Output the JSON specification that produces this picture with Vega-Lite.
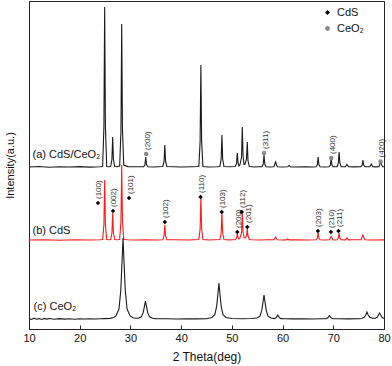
{
  "$schema": "https://vega.github.io/schema/vega-lite/v6.json",
  "width": 355,
  "height": 328,
  "autosize": {"type": "none"},
  "padding": {"left": 29, "top": 1, "right": 8, "bottom": 37},
  "background": "white",
  "datasets": {
    "tr": [
      {"s":"a","x":10,"y":162},{"s":"a","x":12,"y":162.5},{"s":"a","x":14,"y":161.8},{"s":"a","x":16,"y":162.3},{"s":"a","x":18,"y":162},{"s":"a","x":20,"y":162.4},{"s":"a","x":22,"y":161.9},{"s":"a","x":24,"y":162.2},
      {"s":"a","x":24.52,"y":162.5},{"s":"a","x":24.77,"y":202},{"s":"a","x":24.92,"y":322},{"s":"a","x":25.07,"y":202},{"s":"a","x":25.32,"y":162.5},
      {"s":"a","x":25.7,"y":162.3},
      {"s":"a","x":26.1,"y":162.5},{"s":"a","x":26.35,"y":169.5},{"s":"a","x":26.5,"y":192},{"s":"a","x":26.65,"y":169.5},{"s":"a","x":26.9,"y":162.5},
      {"s":"a","x":27.3,"y":162.3},
      {"s":"a","x":27.88,"y":163},{"s":"a","x":28.13,"y":198},{"s":"a","x":28.28,"y":305},{"s":"a","x":28.43,"y":199},{"s":"a","x":28.68,"y":164},
      {"s":"a","x":29.5,"y":162.4},{"s":"a","x":31,"y":162.2},
      {"s":"a","x":32.62,"y":162.3},{"s":"a","x":32.87,"y":164.5},{"s":"a","x":33.02,"y":172},{"s":"a","x":33.17,"y":164.5},{"s":"a","x":33.42,"y":162.3},
      {"s":"a","x":34.5,"y":162},
      {"s":"a","x":36.38,"y":162.5},{"s":"a","x":36.63,"y":167.5},{"s":"a","x":36.78,"y":184},{"s":"a","x":36.93,"y":167.5},{"s":"a","x":37.18,"y":162.5},
      {"s":"a","x":38.5,"y":162.2},{"s":"a","x":40,"y":162},{"s":"a","x":42,"y":162.3},
      {"s":"a","x":43.49,"y":162.5},{"s":"a","x":43.74,"y":187.5},{"s":"a","x":43.89,"y":264},{"s":"a","x":44.04,"y":187.5},{"s":"a","x":44.29,"y":162.5},
      {"s":"a","x":45.5,"y":162},{"s":"a","x":47,"y":162.3},
      {"s":"a","x":47.64,"y":162.5},{"s":"a","x":47.89,"y":170},{"s":"a","x":48.04,"y":194},{"s":"a","x":48.19,"y":170},{"s":"a","x":48.44,"y":162.5},
      {"s":"a","x":49.5,"y":162.2},
      {"s":"a","x":50.67,"y":162.5},{"s":"a","x":50.92,"y":165.5},{"s":"a","x":51.07,"y":176},{"s":"a","x":51.22,"y":166},{"s":"a","x":51.4,"y":163},
      {"s":"a","x":51.56,"y":163.5},{"s":"a","x":51.91,"y":172},{"s":"a","x":52.06,"y":202},{"s":"a","x":52.21,"y":173},{"s":"a","x":52.4,"y":164.5},
      {"s":"a","x":52.6,"y":165},{"s":"a","x":52.89,"y":170},{"s":"a","x":53.04,"y":187},{"s":"a","x":53.19,"y":168},{"s":"a","x":53.44,"y":162.5},
      {"s":"a","x":54.5,"y":162},{"s":"a","x":55.3,"y":162.2},
      {"s":"a","x":55.94,"y":162.3},{"s":"a","x":56.19,"y":165},{"s":"a","x":56.34,"y":174},{"s":"a","x":56.49,"y":165},{"s":"a","x":56.74,"y":162.3},
      {"s":"a","x":57.5,"y":162},
      {"s":"a","x":58.3,"y":162.2},{"s":"a","x":58.62,"y":167},{"s":"a","x":58.95,"y":162.2},
      {"s":"a","x":60,"y":162},{"s":"a","x":61,"y":162.2},{"s":"a","x":61.28,"y":163.5},{"s":"a","x":61.6,"y":162.1},
      {"s":"a","x":62.5,"y":162},{"s":"a","x":64.5,"y":162.3},{"s":"a","x":66,"y":162},
      {"s":"a","x":66.61,"y":162.3},{"s":"a","x":66.86,"y":164.5},{"s":"a","x":67.01,"y":172},{"s":"a","x":67.16,"y":164.5},{"s":"a","x":67.41,"y":162.3},
      {"s":"a","x":68.3,"y":162},
      {"s":"a","x":69.18,"y":162.3},{"s":"a","x":69.43,"y":164},{"s":"a","x":69.58,"y":171},{"s":"a","x":69.73,"y":164},{"s":"a","x":69.98,"y":162.3},
      {"s":"a","x":70.4,"y":162.2},
      {"s":"a","x":70.75,"y":162.3},{"s":"a","x":71,"y":166},{"s":"a","x":71.15,"y":177},{"s":"a","x":71.3,"y":166},{"s":"a","x":71.55,"y":162.3},
      {"s":"a","x":72,"y":162.2},{"s":"a","x":72.4,"y":162.3},{"s":"a","x":72.69,"y":164.5},{"s":"a","x":73,"y":162.2},
      {"s":"a","x":74,"y":162.1},
      {"s":"a","x":75.45,"y":162.3},{"s":"a","x":75.7,"y":164},{"s":"a","x":75.85,"y":169},{"s":"a","x":76,"y":164},{"s":"a","x":76.25,"y":162.3},
      {"s":"a","x":76.8,"y":162.2},{"s":"a","x":77.2,"y":162.3},{"s":"a","x":77.49,"y":165},{"s":"a","x":77.8,"y":162.3},
      {"s":"a","x":78.4,"y":162.1},{"s":"a","x":79,"y":162.3},{"s":"a","x":79.33,"y":167},{"s":"a","x":79.7,"y":162.3},{"s":"a","x":80,"y":162.2},

      {"s":"b","x":10,"y":89},{"s":"b","x":13,"y":89.3},{"s":"b","x":16,"y":88.8},{"s":"b","x":19,"y":89.2},{"s":"b","x":22,"y":89},{"s":"b","x":24,"y":89.2},
      {"s":"b","x":24.52,"y":89.5},{"s":"b","x":24.77,"y":104},{"s":"b","x":24.92,"y":149},{"s":"b","x":25.07,"y":104},{"s":"b","x":25.32,"y":89.5},
      {"s":"b","x":25.7,"y":89.2},
      {"s":"b","x":26.1,"y":89.5},{"s":"b","x":26.35,"y":96},{"s":"b","x":26.5,"y":116},{"s":"b","x":26.65,"y":96},{"s":"b","x":26.9,"y":89.5},
      {"s":"b","x":27.3,"y":89.3},
      {"s":"b","x":27.88,"y":89.5},{"s":"b","x":28.13,"y":108},{"s":"b","x":28.28,"y":164},{"s":"b","x":28.43,"y":108},{"s":"b","x":28.68,"y":89.5},
      {"s":"b","x":29.5,"y":89.2},{"s":"b","x":31,"y":89},{"s":"b","x":33,"y":89.2},{"s":"b","x":35,"y":89},
      {"s":"b","x":36.38,"y":89.2},{"s":"b","x":36.63,"y":93},{"s":"b","x":36.78,"y":104},{"s":"b","x":36.93,"y":93},{"s":"b","x":37.18,"y":89.2},
      {"s":"b","x":39,"y":89.2},{"s":"b","x":41.5,"y":89},
      {"s":"b","x":43.49,"y":89.5},{"s":"b","x":43.74,"y":100},{"s":"b","x":43.89,"y":132},{"s":"b","x":44.04,"y":100},{"s":"b","x":44.29,"y":89.5},
      {"s":"b","x":45.5,"y":89},{"s":"b","x":46.5,"y":89.2},
      {"s":"b","x":47.64,"y":89.5},{"s":"b","x":47.89,"y":96},{"s":"b","x":48.04,"y":117},{"s":"b","x":48.19,"y":96},{"s":"b","x":48.44,"y":89.5},
      {"s":"b","x":49.5,"y":89},
      {"s":"b","x":50.7,"y":89.5},{"s":"b","x":50.92,"y":91},{"s":"b","x":51.07,"y":95},{"s":"b","x":51.22,"y":91.5},{"s":"b","x":51.4,"y":90},
      {"s":"b","x":51.56,"y":90.5},{"s":"b","x":51.91,"y":96},{"s":"b","x":52.06,"y":116},{"s":"b","x":52.21,"y":97},{"s":"b","x":52.4,"y":91.5},
      {"s":"b","x":52.6,"y":91},{"s":"b","x":52.89,"y":93},{"s":"b","x":53.04,"y":100},{"s":"b","x":53.19,"y":93},{"s":"b","x":53.44,"y":89.5},
      {"s":"b","x":54,"y":89.2},{"s":"b","x":55.5,"y":89},{"s":"b","x":57,"y":89.2},
      {"s":"b","x":58.3,"y":89.2},{"s":"b","x":58.62,"y":92},{"s":"b","x":58.95,"y":89.2},
      {"s":"b","x":60,"y":89},{"s":"b","x":60.7,"y":89.1},{"s":"b","x":61,"y":90},{"s":"b","x":61.3,"y":89.1},
      {"s":"b","x":62.5,"y":89.2},{"s":"b","x":65,"y":89},
      {"s":"b","x":66.61,"y":89.2},{"s":"b","x":66.86,"y":91},{"s":"b","x":67.01,"y":96.5},{"s":"b","x":67.16,"y":91},{"s":"b","x":67.41,"y":89.2},
      {"s":"b","x":68.3,"y":89},
      {"s":"b","x":69.25,"y":89.2},{"s":"b","x":69.58,"y":92.5},{"s":"b","x":69.9,"y":89.2},
      {"s":"b","x":70.4,"y":89},
      {"s":"b","x":70.75,"y":89.2},{"s":"b","x":71,"y":91},{"s":"b","x":71.15,"y":96},{"s":"b","x":71.3,"y":91},{"s":"b","x":71.55,"y":89.2},
      {"s":"b","x":72.4,"y":89.1},{"s":"b","x":72.69,"y":91},{"s":"b","x":73,"y":89.1},
      {"s":"b","x":74,"y":89.2},
      {"s":"b","x":75.5,"y":89.2},{"s":"b","x":75.85,"y":94},{"s":"b","x":76.2,"y":89.2},
      {"s":"b","x":77.5,"y":89},{"s":"b","x":80,"y":89.1},

      {"s":"c","x":10,"y":10.5},{"s":"c","x":10.5,"y":9.5},{"s":"c","x":11,"y":10.8},{"s":"c","x":11.5,"y":9.8},{"s":"c","x":12,"y":10.4},{"s":"c","x":12.5,"y":9.6},{"s":"c","x":13,"y":10.6},{"s":"c","x":13.5,"y":9.9},{"s":"c","x":14,"y":10.5},{"s":"c","x":15,"y":9.8},{"s":"c","x":16,"y":10.4},{"s":"c","x":17,"y":9.9},{"s":"c","x":18,"y":10.3},{"s":"c","x":19,"y":9.8},{"s":"c","x":20,"y":10.2},{"s":"c","x":21,"y":10},{"s":"c","x":22,"y":10.3},{"s":"c","x":23,"y":10},{"s":"c","x":24,"y":10.2},{"s":"c","x":25,"y":10.4},{"s":"c","x":26,"y":10.6},{"s":"c","x":26.7,"y":11.5},
      {"s":"c","x":27.14,"y":13},{"s":"c","x":27.74,"y":20},{"s":"c","x":28.09,"y":38},{"s":"c","x":28.34,"y":67},{"s":"c","x":28.54,"y":91},{"s":"c","x":28.74,"y":67},{"s":"c","x":28.99,"y":38},{"s":"c","x":29.34,"y":20},{"s":"c","x":29.94,"y":13},
      {"s":"c","x":30.5,"y":11.2},{"s":"c","x":31,"y":10.8},
      {"s":"c","x":31.56,"y":10.7},{"s":"c","x":32.16,"y":12.2},{"s":"c","x":32.51,"y":16.3},{"s":"c","x":32.76,"y":22.6},{"s":"c","x":32.96,"y":28},{"s":"c","x":33.16,"y":22.6},{"s":"c","x":33.41,"y":16.3},{"s":"c","x":33.76,"y":12.2},{"s":"c","x":34.36,"y":10.7},
      {"s":"c","x":35,"y":10.4},{"s":"c","x":37,"y":10.2},{"s":"c","x":39,"y":10},{"s":"c","x":41,"y":10.2},{"s":"c","x":43,"y":10.1},{"s":"c","x":45,"y":10.3},
      {"s":"c","x":46.05,"y":11.5},{"s":"c","x":46.65,"y":14.3},{"s":"c","x":47,"y":22.6},{"s":"c","x":47.25,"y":35},{"s":"c","x":47.45,"y":46},{"s":"c","x":47.65,"y":35},{"s":"c","x":47.9,"y":22.6},{"s":"c","x":48.25,"y":14.3},{"s":"c","x":48.85,"y":11.5},
      {"s":"c","x":50,"y":10.5},{"s":"c","x":52,"y":10.3},{"s":"c","x":54,"y":10.5},
      {"s":"c","x":54.94,"y":11},{"s":"c","x":55.54,"y":12.9},{"s":"c","x":55.89,"y":18.4},{"s":"c","x":56.14,"y":26.8},{"s":"c","x":56.34,"y":34},{"s":"c","x":56.54,"y":26.8},{"s":"c","x":56.79,"y":18.4},{"s":"c","x":57.14,"y":12.9},{"s":"c","x":57.74,"y":11},
      {"s":"c","x":58.4,"y":10.4},{"s":"c","x":58.75,"y":11.5},{"s":"c","x":59.05,"y":14},{"s":"c","x":59.35,"y":11.5},{"s":"c","x":59.7,"y":10.4},
      {"s":"c","x":60.5,"y":10.3},{"s":"c","x":62,"y":10.1},{"s":"c","x":64,"y":10.2},{"s":"c","x":66,"y":10},{"s":"c","x":67.5,"y":10.2},
      {"s":"c","x":68.6,"y":10.3},{"s":"c","x":68.95,"y":11.2},{"s":"c","x":69.25,"y":13.5},{"s":"c","x":69.55,"y":11.2},{"s":"c","x":69.9,"y":10.3},
      {"s":"c","x":71,"y":10.2},{"s":"c","x":73,"y":10.1},{"s":"c","x":75,"y":10.3},
      {"s":"c","x":75.6,"y":10.5},{"s":"c","x":76.1,"y":11.8},{"s":"c","x":76.4,"y":14},{"s":"c","x":76.64,"y":17},{"s":"c","x":76.88,"y":14},{"s":"c","x":77.2,"y":11.8},
      {"s":"c","x":77.7,"y":10.8},{"s":"c","x":78.3,"y":10.8},{"s":"c","x":78.7,"y":12},{"s":"c","x":78.9,"y":14},{"s":"c","x":79.13,"y":16},{"s":"c","x":79.36,"y":14},{"s":"c","x":79.65,"y":11.5},{"s":"c","x":80,"y":10.5}
    ],
    "mk": [
      {"phase":"CeO₂","x":33.1,"y":175,"hkl":"(200)"},
      {"phase":"CeO₂","x":56.35,"y":176,"hkl":"(311)"},
      {"phase":"CeO₂","x":69.6,"y":171,"hkl":"(400)"},
      {"phase":"CeO₂","x":79.33,"y":167.5,"hkl":"(420)"},
      {"phase":"CdS","x":23.6,"y":126,"hkl":"(100)"},
      {"phase":"CdS","x":26.56,"y":118,"hkl":"(002)"},
      {"phase":"CdS","x":29.72,"y":131,"hkl":"(101)"},
      {"phase":"CdS","x":36.78,"y":107,"hkl":"(102)"},
      {"phase":"CdS","x":43.83,"y":132,"hkl":"(110)"},
      {"phase":"CdS","x":48.0,"y":117,"hkl":"(103)"},
      {"phase":"CdS","x":51.07,"y":97,"hkl":"(200)"},
      {"phase":"CdS","x":51.94,"y":117,"hkl":"(112)"},
      {"phase":"CdS","x":53.04,"y":102,"hkl":"(201)"},
      {"phase":"CdS","x":66.96,"y":98,"hkl":"(203)"},
      {"phase":"CdS","x":69.53,"y":97,"hkl":"(210)"},
      {"phase":"CdS","x":71.03,"y":98,"hkl":"(211)"}
    ],
    "lb": [
      {"x":10.7,"y":174,"t":"(a) CdS/CeO₂"},
      {"x":10.7,"y":98,"t":"(b) CdS"},
      {"x":10.9,"y":22,"t":"(c) CeO₂"}
    ]
  },
  "layer": [
    {
      "data": {"name": "tr"},
      "mark": {"type": "line", "strokeWidth": 1.1, "interpolate": "linear"},
      "encoding": {
        "x": {"field": "x", "type": "quantitative", "scale": {"domain": [10, 80], "nice": false},
          "axis": {"title": "2 Theta(deg)", "titleFontSize": 12, "titlePadding": 8, "labelFontSize": 11, "labelPadding": 7,
            "values": [10,15,20,25,30,35,40,45,50,55,60,65,70,75,80],
            "labelExpr": "datum.value % 10 === 0 ? datum.label : ''",
            "tickSize": {"condition": {"test": "datum.value % 10 === 0", "value": -4}, "value": -2},
            "labelFlush": false}},
        "y": {"field": "y", "type": "quantitative", "scale": {"domain": [0, 328], "nice": false, "zero": false},
          "axis": {"title": "Intensity(a.u.)", "titleFontSize": 11, "labels": false, "ticks": false, "titlePadding": 14}},
        "stroke": {"field": "s", "type": "nominal", "scale": {"domain": ["a","b","c"], "range": ["#1a1a1a","#ff1a1a","#1a1a1a"]}, "legend": null},
        "detail": {"field": "s"}
      }
    },
    {
      "data": {"name": "lb"},
      "mark": {"type": "text", "align": "left", "baseline": "middle", "fontSize": 11, "color": "#111"},
      "encoding": {
        "x": {"field": "x", "type": "quantitative"},
        "y": {"field": "y", "type": "quantitative"},
        "text": {"field": "t"}
      }
    },
    {
      "data": {"name": "mk"},
      "mark": {"type": "text", "align": "left", "baseline": "middle", "angle": 270, "dx": 4, "dy": 1.5, "fontSize": 8, "color": "#333"},
      "encoding": {
        "x": {"field": "x", "type": "quantitative"},
        "y": {"field": "y", "type": "quantitative"},
        "text": {"field": "hkl"}
      }
    },
    {
      "data": {"name": "mk"},
      "mark": {"type": "point", "filled": true, "opacity": 1, "size": 20},
      "encoding": {
        "x": {"field": "x", "type": "quantitative"},
        "y": {"field": "y", "type": "quantitative"},
        "shape": {"field": "phase", "type": "nominal", "title": null, "scale": {"domain": ["CdS","CeO₂"], "range": ["diamond","circle"]}},
        "color": {"field": "phase", "type": "nominal", "title": null, "scale": {"domain": ["CdS","CeO₂"], "range": ["#000000","#8a8a8a"]}}
      }
    }
  ],
  "config": {
    "font": "Liberation Sans",
    "view": {"stroke": "#222", "strokeWidth": 1},
    "axis": {"grid": false, "domainColor": "#222", "tickColor": "#222", "labelColor": "#111", "titleColor": "#111", "titleFontWeight": "normal"},
    "legend": {"orient": "none", "legendX": 293, "legendY": 6, "labelFontSize": 11, "labelColor": "#111", "symbolSize": 24, "rowPadding": 4, "labelOffset": 4, "padding": 0, "symbolStrokeWidth": 0}
  }
}
